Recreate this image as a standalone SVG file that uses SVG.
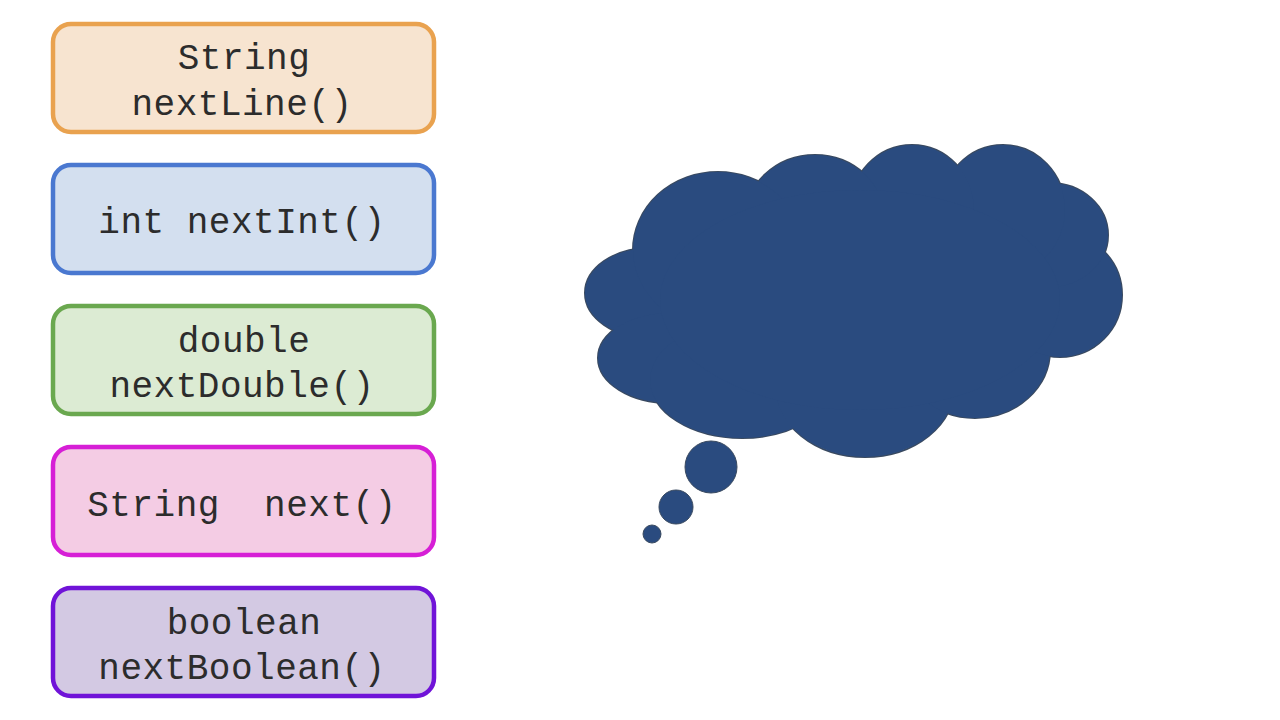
<svg xmlns="http://www.w3.org/2000/svg" width="1280" height="720" viewBox="0 0 1280 720">
<style>
.box{stroke-width:4.5}
.t{font-family:"Liberation Mono","Courier New",monospace;font-size:36px;fill:#2c2c2c;text-anchor:middle;letter-spacing:0.5px}
.cl{fill:#2A4B7F}
.clo{fill:none;stroke:#3a4a60;stroke-width:2}
</style>
<defs>
<g id="cloudshapes">
<ellipse cx="650" cy="293" rx="65" ry="45"/>
<ellipse cx="670" cy="358" rx="72" ry="45"/>
<ellipse cx="742" cy="380" rx="92" ry="58"/>
<ellipse cx="865" cy="385" rx="90" ry="72"/>
<ellipse cx="975" cy="350" rx="75" ry="68"/>
<ellipse cx="1060" cy="295" rx="62" ry="62"/>
<ellipse cx="1050" cy="235" rx="58" ry="52"/>
<ellipse cx="1003" cy="210" rx="62" ry="65"/>
<ellipse cx="912" cy="210" rx="62" ry="65"/>
<ellipse cx="815" cy="220" rx="70" ry="65"/>
<ellipse cx="718" cy="250" rx="85" ry="78"/>
<ellipse cx="860" cy="300" rx="200" ry="110"/>
</g>
</defs>
<rect width="1280" height="720" fill="#ffffff"/>
<g id="node-nextLine">
<rect class="box" x="53" y="24" width="381" height="108" rx="18" fill="#F7E4D0" stroke="#E9A24F"/>
<text class="t" x="244" y="69">String</text>
<text class="t" x="242" y="115">nextLine()</text>
</g>
<g id="node-nextInt">
<rect class="box" x="53" y="165" width="381" height="108" rx="18" fill="#D3DFEF" stroke="#4A78D0"/>
<text class="t" x="242" y="233" xml:space="preserve">int nextInt()</text>
</g>
<g id="node-nextDouble">
<rect class="box" x="53" y="306" width="381" height="108" rx="18" fill="#DCEBD3" stroke="#6AA84F"/>
<text class="t" x="244" y="352">double</text>
<text class="t" x="242" y="397">nextDouble()</text>
</g>
<g id="node-next">
<rect class="box" x="53" y="447" width="381" height="108" rx="18" fill="#F4CCE4" stroke="#D61FD6"/>
<text class="t" x="242" y="516" xml:space="preserve">String  next()</text>
</g>
<g id="node-nextBoolean">
<rect class="box" x="53" y="588" width="381" height="108" rx="18" fill="#D3C9E3" stroke="#7013D8"/>
<text class="t" x="244" y="634">boolean</text>
<text class="t" x="242" y="679">nextBoolean()</text>
</g>
<g id="thought-cloud">
<use href="#cloudshapes" class="clo"/>
<use href="#cloudshapes" class="cl"/>
<circle cx="711" cy="467" r="26" class="cl" stroke="#3a4a60" stroke-width="1"/>
<circle cx="676" cy="507" r="17" class="cl" stroke="#3a4a60" stroke-width="1"/>
<circle cx="652" cy="534" r="9" class="cl" stroke="#3a4a60" stroke-width="1"/>
</g>
</svg>
